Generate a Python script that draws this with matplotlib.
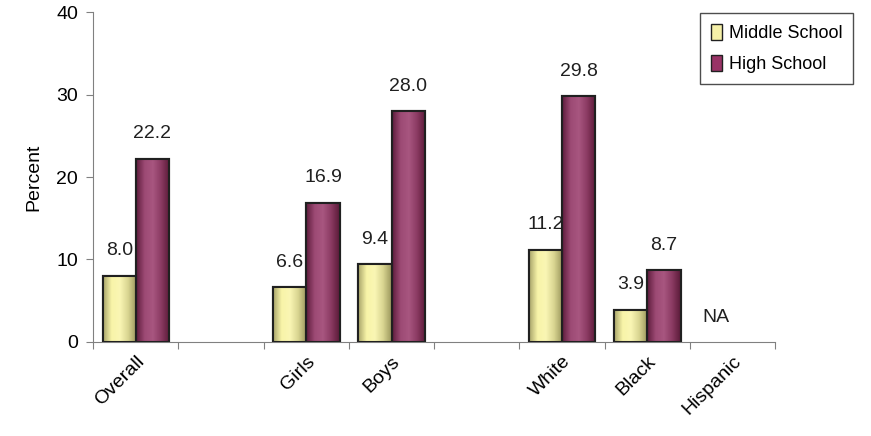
import matplotlib
matplotlib.use("Agg")
import matplotlib.pyplot as plt
import numpy as np
from matplotlib.colors import LinearSegmentedColormap
from matplotlib.patches import Patch

plt.rcParams["font.family"] = ["Liberation Sans", "DejaVu Sans"]

categories = ["Overall", "", "Girls", "Boys", "", "White", "Black", "Hispanic"]
middle = [8.0, None, 6.6, 9.4, None, 11.2, 3.9, None]
high = [22.2, None, 16.9, 28.0, None, 29.8, 8.7, None]
na_label = "NA"

AXIS = "#808080"
FS = 14
fig = plt.figure(figsize=(8.71, 4.36), dpi=100)
ax = fig.add_axes([0.107, 0.216, 0.783, 0.756])

x = np.arange(len(categories))
w = 0.39
cm_y = LinearSegmentedColormap.from_list("y", ["#a8a46a", "#f8f4a8", "#faf6b4", "#d8d490", "#9a965c"])
cm_m = LinearSegmentedColormap.from_list("m", ["#5e1c3c", "#9c4a74", "#a85680", "#8a3a62", "#5a1a38"])
grad = np.linspace(0, 1, 64).reshape(1, -1)

def draw(vals, offset, cmap, face):
    for xi, v in zip(x, vals):
        if v is None:
            continue
        b = ax.bar(xi + offset, v, w, color=face, edgecolor="#202020", linewidth=1.5, zorder=3)[0]
        im = ax.imshow(grad, cmap=cmap, aspect="auto", zorder=3.5,
                       extent=[b.get_x(), b.get_x() + w, 0, v])
        im.set_clip_path(b)
        ax.bar(xi + offset, v, w, fill=False, edgecolor="#202020", linewidth=1.5, zorder=4)
        ax.text(xi + offset, v + 2.0, f"{v:.1f}", ha="center", va="bottom", fontsize=FS, color="#202020")

draw(middle, -w / 2, cm_y, "#f5f0a8")
draw(high, w / 2, cm_m, "#993366")
ax.text(x[7] - 0.2, 4.0, na_label, ha="center", va="top", fontsize=FS, color="#202020")

ax.set_xlim(-0.5, len(categories) - 0.5)
ax.set_ylim(0, 40)
ax.set_yticks([0, 10, 20, 30, 40])
ax.set_xticks(np.arange(len(categories) + 1) - 0.5)
ax.set_xticklabels([])
ax.set_xticks(x, minor=True)
ax.set_xticklabels(categories, minor=True, rotation=45, ha="right", rotation_mode="anchor", fontsize=FS)
ax.tick_params(axis="x", which="minor", length=0, pad=8)
ax.tick_params(axis="both", which="major", direction="out", length=5, color=AXIS, labelsize=FS)
ax.tick_params(axis="y", pad=6)
for s in ["top", "right"]:
    ax.spines[s].set_visible(False)
for s in ["left", "bottom"]:
    ax.spines[s].set_color(AXIS)
ax.set_ylabel("Percent", fontsize=FS, labelpad=10)

handles = [Patch(facecolor="#f5f0a8", edgecolor="#202020"), Patch(facecolor="#993366", edgecolor="#202020")]
leg = fig.legend(handles, ["Middle School", "High School"], loc="upper right",
                 bbox_to_anchor=(0.99, 0.99), fontsize=13, frameon=True, fancybox=False,
                 edgecolor="#202020", handlelength=0.6, handleheight=1.0, labelspacing=0.7,
                 handletextpad=0.4, borderpad=0.6)
leg.get_frame().set_linewidth(1.0)

fig.savefig("out.png", dpi=100)
